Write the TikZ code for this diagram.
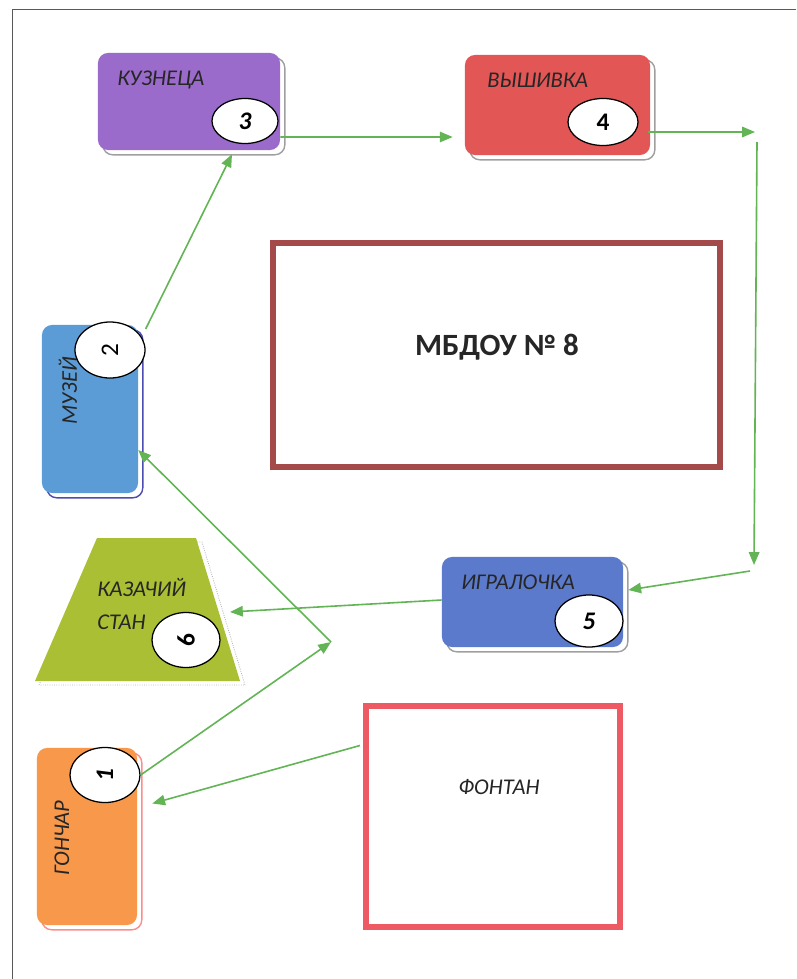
\documentclass[tikz,border=0pt]{standalone}
\usepackage{fontspec}
\setmainfont{Carlito}
\usetikzlibrary{arrows.meta,shapes.geometric,shadows,calc}
\definecolor{arrowgreen}{RGB}{98,180,84}
\definecolor{smithviolet}{RGB}{155,107,203}
\definecolor{stitchred}{RGB}{226,86,86}
\definecolor{museumblue}{RGB}{92,156,214}
\definecolor{playblue}{RGB}{92,122,204}
\definecolor{potterorange}{RGB}{247,152,74}
\definecolor{campolive}{RGB}{170,191,52}
\definecolor{schoolframe}{RGB}{165,74,74}
\definecolor{fountainframe}{RGB}{238,90,100}

\begin{document}
\begin{tikzpicture}[x=0.025cm,y=-0.025cm,
    card/.style={rounded corners=2.5mm, inner sep=0pt, drop shadow={shadow xshift=1.2mm, shadow yshift=-1.2mm, fill=white, draw=#1, line width=1pt, opacity=1}},
    card/.default=gray!75,
    num/.style={ellipse, draw=black, fill=white, line width=0.9pt, inner sep=0pt, font=\bfseries\fontsize{18}{18}\selectfont},
    lbl/.style={text=black!85, inner sep=0pt, font=\itshape\fontsize{16}{16}\selectfont},
    frame/.style={draw=#1, line width=1.5mm, fill=white, inner sep=0pt},
    arr/.style={draw=arrowgreen, line width=0.4mm, -{Triangle[length=3.2mm,width=2.6mm]}}]
    \useasboundingbox (0,0) rectangle (796,979);
    \draw[gray!70!black, line width=0.5pt] (12,979) -- (12,9) -- (796,9);

% frames
\node[frame=schoolframe, minimum width=111.75mm, minimum height=56mm] (mbdou) at (496.5,355) {};
\node[font=\bfseries\fontsize{22}{22}\selectfont, text=black!85] (mbdoutext) at (497,347) {МБДОУ № 8};
\node[frame=fountainframe, minimum width=63.5mm, minimum height=55.25mm] (fontan) at (493,816.5) {};
\node[lbl] (fontantext) at (499,787) {ФОНТАН};

% cards
\node[card, fill=smithviolet, minimum width=45.5mm, minimum height=24.25mm] (kuznec) at (189,101.5) {};
\node[card, fill=stitchred, minimum width=46.25mm, minimum height=25mm] (vysh) at (557.5,105) {};
\node[card=gray!60!blue, fill=museumblue, minimum width=24mm, minimum height=42mm] (muzej) at (90,409) {};
\node[card, fill=playblue, minimum width=45.25mm, minimum height=22.5mm] (igral) at (532.5,602) {};
\node[card=red!45, fill=potterorange, minimum width=25mm, minimum height=44.25mm] (gonchar) at (87,836.5) {};

    \fill[white, draw=gray!60, line width=0.6pt, densely dotted] (39,685) -- (101,542) -- (202,542) -- (245,685) -- cycle;
    \fill[campolive] (35,681) -- (97,538) -- (196,538) -- (240,681) -- cycle;
    \coordinate (stanR) at (230,612);

\node[lbl, anchor=west] (kuznectext) at (117,80) {КУЗНЕЦА};
\node[lbl, anchor=west] (vyshtext) at (487,80) {ВЫШИВКА};
\node[lbl, anchor=west] (igraltext) at (461,582) {ИГРАЛОЧКА};
\node[lbl, anchor=west] (stantext) at (97,588) {КАЗАЧИЙ};
\node[lbl, anchor=west] (stantext2) at (97,622) {СТАН};
\node[lbl, rotate=90] (muzejtext) at (68,391) {МУЗЕЙ};
\node[lbl, rotate=90] (gonchartext) at (62,838) {ГОНЧАР};

% numbers
\node[num, minimum width=16.5mm, minimum height=11.25mm] (c3) at (245,121) {\itshape 3};
\node[num, minimum width=17.5mm, minimum height=11.75mm] (c4) at (603,122) {4};
\node[num, minimum width=17mm, minimum height=13mm] (c5) at (589,621) {\itshape 5};
\node[num, minimum width=17.5mm, minimum height=14mm] (c2) at (110,350) {\rotatebox{90}{\mdseries 2}};
\node[num, minimum width=17mm, minimum height=13.75mm] (c6) at (186,640) {\rotatebox{90}{6}};
\node[num, minimum width=17.5mm, minimum height=13.75mm] (c1) at (105,775) {\rotatebox{90}{\itshape 1}};

% route
    \coordinate (turnA) at (331,642);
    \coordinate (turnB) at (755,132);
    \coordinate (turnC) at (754,565);
\draw[arr] (c1.east) -- (turnA);
\draw[arr] (turnA) -- ($(muzej.east)+(0,41)$);
\draw[arr] ($(c2.east)+(0,-21)$) -- ($(kuznec.south)+(43,4)$);
\draw[arr] ($(kuznec.east)+(0,35.5)$) -- ($(vysh.west)+(-12,32)$);
\draw[arr] ($(vysh.east)+(-2,27)$) -- (turnB);
\draw[arr] ($(turnB)+(2,10)$) -- (turnC);
\draw[arr] ($(turnC)+(-4,6)$) -- ($(igral.east)+(5,-12)$);
\draw[arr] ($(igral.west)+(0,-2)$) -- (stanR);
\draw[arr] ($(fontan.west)+(-3,-71)$) -- ($(gonchar.east)+(15,-33)$);

\end{tikzpicture}
\end{document}
